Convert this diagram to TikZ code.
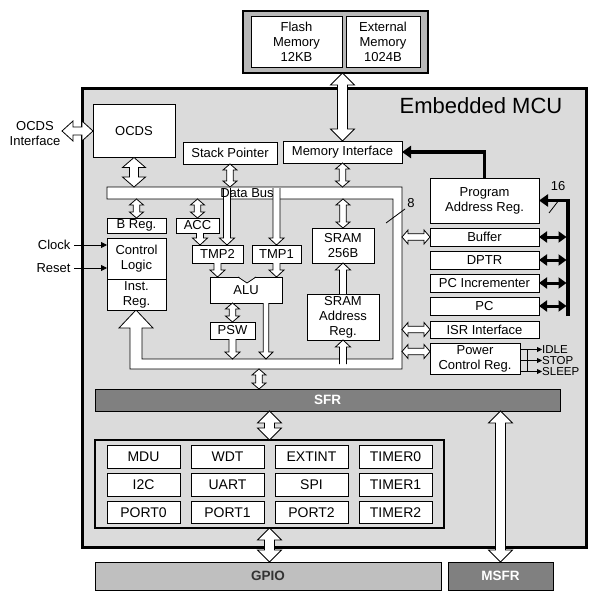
\documentclass[tikz,border=0pt]{standalone}
\usepackage{fontspec}
\setmainfont{Liberation Sans}
\usetikzlibrary{calc,arrows.meta}

\definecolor{mcugray}{gray}{0.86}
\definecolor{memgray}{gray}{0.72}
\definecolor{sfrgray}{gray}{0.50}
\definecolor{gpiogray}{gray}{0.75}

\newcommand{\boxfont}{\fontsize{13}{15}\selectfont}

% open bus arrows: shaft half width, head half width, head length, from, to
\newcommand{\dblbus}[5]{%
  \draw[busarrow] (#4)
    -- ($($(#4)!#3!(#5)$)!#2!90:(#5)$)
    -- ($($(#4)!#3!(#5)$)!#1!90:(#5)$)
    -- ($($(#5)!#3!(#4)$)!#1!-90:(#4)$)
    -- ($($(#5)!#3!(#4)$)!#2!-90:(#4)$)
    -- (#5)
    -- ($($(#5)!#3!(#4)$)!#2!90:(#4)$)
    -- ($($(#5)!#3!(#4)$)!#1!90:(#4)$)
    -- ($($(#4)!#3!(#5)$)!#1!-90:(#5)$)
    -- ($($(#4)!#3!(#5)$)!#2!-90:(#5)$)
    -- cycle;}
\newcommand{\onebus}[5]{%
  \draw[busarrow] ($(#4)!#1!90:(#5)$)
    -- ($($(#5)!#3!(#4)$)!#1!-90:(#4)$)
    -- ($($(#5)!#3!(#4)$)!#2!-90:(#4)$)
    -- (#5)
    -- ($($(#5)!#3!(#4)$)!#2!90:(#4)$)
    -- ($($(#5)!#3!(#4)$)!#1!90:(#4)$)
    -- ($(#4)!#1!-90:(#5)$);}
\newcommand{\smallbus}[2]{\dblbus{3.2pt}{7pt}{6pt}{#1}{#2}}
\newcommand{\midbus}[2]{\dblbus{4.5pt}{11.5pt}{10pt}{#1}{#2}}
\newcommand{\bigbus}[2]{\dblbus{5pt}{12pt}{12pt}{#1}{#2}}
\newcommand{\smallto}[2]{\onebus{3.5pt}{7.5pt}{7pt}{#1}{#2}}

\begin{document}
\begin{tikzpicture}[x=1pt, y=-1pt,
  blk/.style={draw, fill=white, line width=0.8pt, inner sep=0pt, outer sep=0pt, align=center, font=\boxfont},
  frame/.style={draw, line width=1.5pt, inner sep=0pt, outer sep=0pt},
  bar/.style={draw, line width=0.8pt, inner sep=0pt, outer sep=0pt, font=\bfseries\fontsize{13.5}{15}\selectfont},
  busarrow/.style={draw, fill=white, line width=0.8pt, line join=miter},
  sig/.style={line width=0.8pt, -{Triangle[length=6pt,width=6pt]}},
  fatline/.style={line width=3.5pt, line join=miter},
  cell/.style={blk, minimum width=73pt, minimum height=22.5pt, font=\fontsize{14}{16}\selectfont},
  modefont/.style={anchor=west, inner sep=0pt, font=\fontsize{11.5}{12}\selectfont},
]
\useasboundingbox (0,0) rectangle (589,591);

% --- memories ---
\node[frame, fill=memgray, minimum width=185pt, minimum height=62pt] (memframe) at (335.5,42) {};
\node[blk, minimum width=91pt, minimum height=51pt] (flash) at (296.5,41.5) {Flash\\Memory\\12KB};
\node[blk, minimum width=74pt, minimum height=51pt] (extmem) at (383,41.5) {External\\Memory\\1024B};

% --- MCU ---
\node[draw, fill=mcugray, line width=3pt, inner sep=0pt, outer sep=0pt, minimum width=504pt, minimum height=458pt] (mcu) at (334,318) {};
\node[font=\fontsize{22}{26}\selectfont] (title) at (481,106) {Embedded MCU};

% data bus
\draw[busarrow] (107,187) -- (402,187) -- (402,369) -- (130,369) -- (130,328) -- (119,328)
  -- (136,310) -- (153,328) -- (142,328) -- (142,359) -- (393,359) -- (393,199) -- (107,199) -- cycle;
\coordinate (bustop) at (0,187);
\coordinate (busbot) at (0,199);
\coordinate (busfill) at (0,188);
\coordinate (busin) at (0,359);
\coordinate (busdeep) at (0,364);
\coordinate (busout) at (0,369);
\coordinate (busright) at (402,0);

\node[blk, minimum width=82pt, minimum height=53pt] (ocds) at (134,131) {OCDS};
\node[blk, minimum width=94pt, minimum height=22pt] (stackptr) at (230,153) {Stack Pointer};
\node[blk, minimum width=119pt, minimum height=22pt] (meminf) at (342.5,152) {Memory Interface};
\node[blk, minimum width=59pt, minimum height=15pt] (breg) at (136.5,225.5) {B Reg.};
\node[blk, minimum width=43pt, minimum height=15pt] (acc) at (197.5,225.5) {ACC};
\node[blk, minimum width=59pt, minimum height=41pt] (ctrl) at (136.5,258.5) {Control\\Logic};
\node[blk, minimum width=59pt, minimum height=31pt] (instreg) at (136.5,294.5) {Inst.\\Reg.};
\node[blk, minimum width=51pt, minimum height=18pt] (tmp2) at (217.5,254) {TMP2};
\node[blk, minimum width=49pt, minimum height=18pt] (tmp1) at (276.5,254) {TMP1};
\node[blk, minimum width=72pt, minimum height=26pt] (alu) at (246,290) {ALU};
\fill[mcugray] (237.5,276.2) -- (256.5,276.2) -- (247,282.6) -- cycle;
\draw[line width=0.8pt] (238,277) -- (247,283) -- (256,277);
\node[blk, minimum width=45pt, minimum height=17pt] (psw) at (232.5,330.5) {PSW};
\node[blk, minimum width=62pt, minimum height=35pt] (sram) at (343,245.5) {SRAM\\256B};
\node[blk, minimum width=72pt, minimum height=46pt] (sramaddr) at (343,317) {SRAM\\Address\\Reg.};

% right column
\node[blk, minimum width=109pt, minimum height=45pt] (progaddr) at (484.5,200.5) {Program\\Address Reg.};
\node[blk, minimum width=109pt, minimum height=18pt] (buffer) at (484.5,237) {Buffer};
\node[blk, minimum width=109pt, minimum height=18pt] (dptr) at (484.5,260) {DPTR};
\node[blk, minimum width=109pt, minimum height=18pt] (pcinc) at (484.5,283) {PC Incrementer};
\node[blk, minimum width=109pt, minimum height=18pt] (pc) at (484.5,306) {PC};
\node[blk, minimum width=109pt, minimum height=17pt] (isr) at (484.5,329.5) {ISR Interface};
\node[blk, minimum width=90pt, minimum height=31pt] (power) at (475,358.5) {Power\\Control Reg.};

% SFR and peripherals
\node[bar, fill=sfrgray, text=white, minimum width=465pt, minimum height=22pt] (sfr) at (327.5,400) {SFR};
\node[frame, fill=mcugray, minimum width=349pt, minimum height=88pt] (periph) at (269.5,484) {};
\foreach \row/\names in {0/{MDU,WDT,EXTINT,TIMER0}, 1/{I2C,UART,SPI,TIMER1}, 2/{PORT0,PORT1,PORT2,TIMER2}}
  \foreach \lbl [count=\col from 0] in \names
    \node[cell] (p\row\col) at (143.5+84*\col, 457+27.7*\row) {\lbl};
\node[bar, fill=gpiogray, text=black!80, minimum width=346pt, minimum height=28pt] (gpio) at (268,576) {GPIO};
\node[bar, fill=sfrgray, text=white, minimum width=105pt, minimum height=28pt] (msfr) at (500.5,576) {MSFR};

% outside signals
\node[align=center, font=\boxfont] (ocdsif) at (35,134) {OCDS\\Interface};
\coordinate (ocdsend) at (62,0);
\dblbus{4pt}{10pt}{11pt}{ocdsend |- ocds.west}{ocds.west}
\node[anchor=east, font=\boxfont] (clock) at (74,245) {Clock};
\node[anchor=east, font=\boxfont] (reset) at (74,268) {Reset};
\draw[sig] (clock.east) -- (clock.east -| ctrl.west);
\draw[sig] (reset.east) -- (reset.east -| ctrl.west);

% bus connections
\bigbus{meminf.north |- memframe.south}{meminf.north}
\midbus{ocds.south}{ocds.south |- bustop}
\smallbus{stackptr.south}{stackptr.south |- bustop}
\smallbus{meminf.south}{meminf.south |- bustop}
\smallbus{breg.north |- busbot}{breg.north}
\smallbus{acc.north |- busbot}{acc.north}
\coordinate (acctap) at (200,0);
\smallto{acctap |- acc.south}{acctap |- tmp2.north}
\coordinate (tmp2tap) at (227,188);
\smallto{tmp2tap}{tmp2tap |- tmp2.north}
\smallto{tmp1.north |- busfill}{tmp1.north}
\smallto{tmp2.south}{tmp2.south |- alu.north}
\smallto{tmp1.south}{tmp1.south |- alu.north}
\smallbus{psw.north |- alu.south}{psw.north}
\smallto{psw.south}{psw.south |- busin}
\coordinate (alutap) at (266,0);
\onebus{2.8pt}{7pt}{7pt}{alutap |- alu.south}{alutap |- busin}
\smallbus{sram.north |- busbot}{sram.north}
\smallto{sramaddr.north}{sram.south}
\smallto{sramaddr.south |- busdeep}{sramaddr.south}
\smallbus{busright |- buffer.west}{buffer.west}
\smallbus{busright |- isr.west}{isr.west}
\coordinate (pwrin) at ([yshift=7pt]power.west);
\smallbus{busright |- pwrin}{pwrin}
\coordinate (sfrtap) at (259,0);
\smallbus{sfrtap |- busout}{sfrtap |- sfr.north}
\bigbus{periph.north |- sfr.south}{periph.north}
\bigbus{periph.south}{periph.south |- gpio.north}
\bigbus{msfr.north |- sfr.south}{msfr.north}

\node[font=\boxfont] (databus) at (247,193) {Data Bus};
\node[font=\boxfont] (w8) at (411,203) {8};
\draw[line width=0.8pt] (386,223) -- (405,209);

% address bus (16 bit)
\draw[fatline, -{Triangle[length=9pt,width=12pt]}] (progaddr.north) |- (meminf.east);
\coordinate (pcbus) at (568,316);
\draw[fatline, -{Triangle[length=9pt,width=12pt]}] (pcbus) |- (progaddr.east);
\foreach \reg in {buffer,dptr,pcinc,pc}
  \draw[line width=3pt, {Triangle[length=8pt,width=11pt]}-{Triangle[length=8pt,width=11pt]}, shorten >=1.5pt] (\reg.east) -- (\reg.east -| pcbus);
\node[font=\boxfont] (w16) at (558,186) {16};
\draw[line width=0.8pt] (549,213) -- (559,200);

% power modes
\node[modefont] (idle) at (542,349.5) {IDLE};
\node[modefont] (stop) at (542,360.5) {STOP};
\node[modefont] (sleep) at (542,371.5) {SLEEP};
\foreach \mode in {idle,stop,sleep}
  \draw[line width=0.8pt, -{Triangle[length=5pt,width=5pt]}] (power.east |- \mode.west) -- (\mode.west);
\coordinate (pwrjoint) at (527,0);
\draw[line width=0.8pt] (pwrjoint |- idle.west) -- (pwrjoint |- sleep.west);
\end{tikzpicture}
\end{document}
